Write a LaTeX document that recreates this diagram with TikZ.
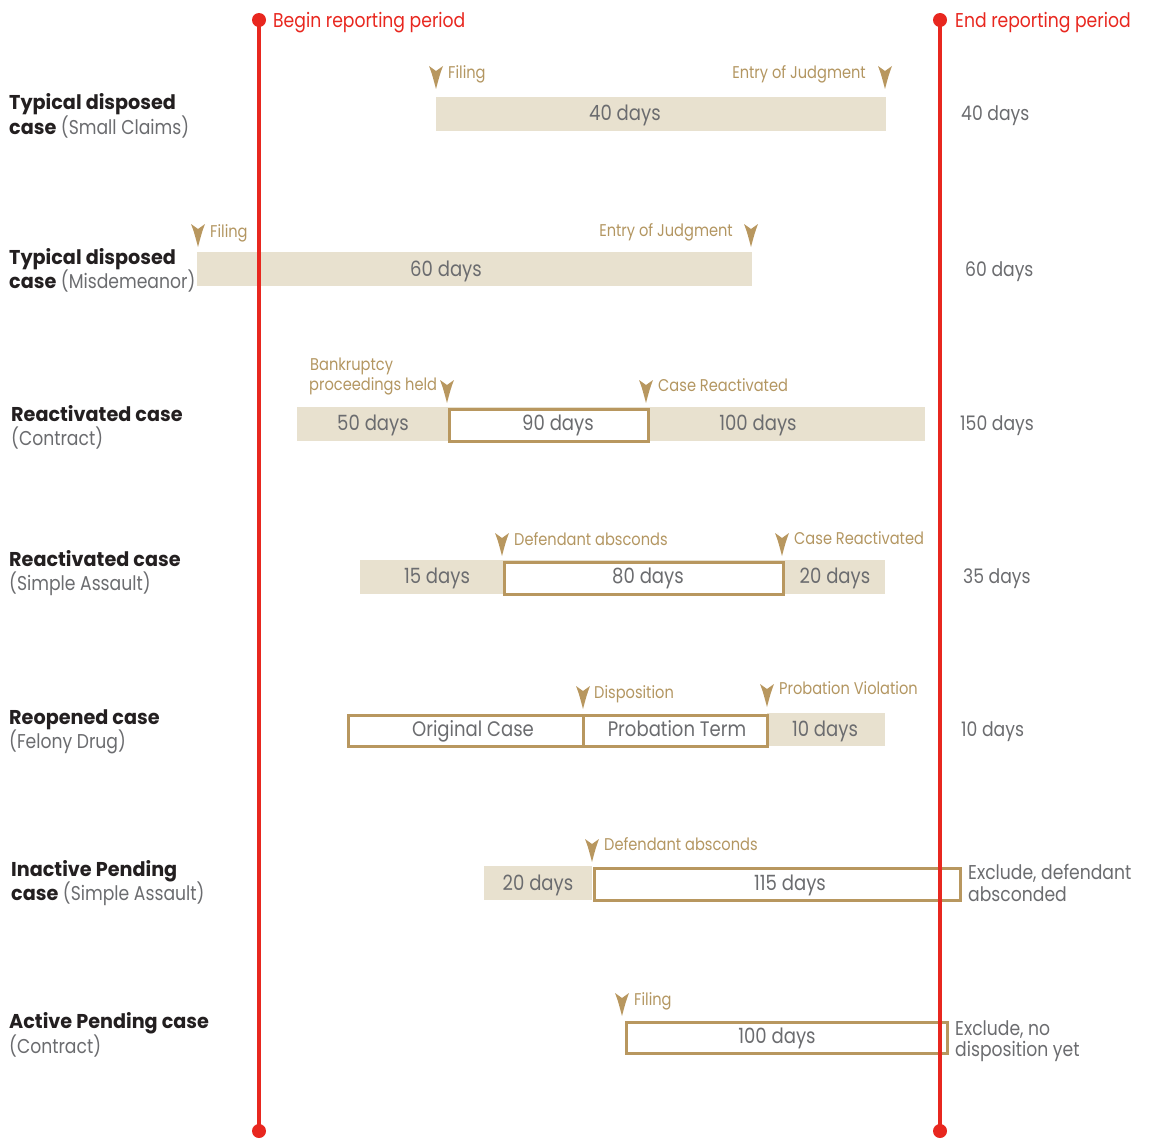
\documentclass[tikz,border=0pt]{standalone}
\usepackage{fontspec}
\setmainfont{Poppins}[FakeStretch=0.86]
\newfontfamily\heavyf{Poppins}[FakeStretch=0.96]
\usetikzlibrary{calc}
\definecolor{redline}{HTML}{E8271F}
\definecolor{beige}{HTML}{E8E1CF}
\definecolor{goldline}{HTML}{B8975F}
\definecolor{goldtxt}{HTML}{B39661}
\definecolor{graytxt}{HTML}{6B6C6F}
\definecolor{darktxt}{HTML}{231F20}
\newcommand{\hd}[1]{{\heavyf\bfseries\color{darktxt}#1}}
\begin{document}
\begin{tikzpicture}[x=1pt,y=-1pt,
  beigebar/.style={fill=beige,draw=none,inner sep=0,minimum height=34,anchor=north west},
  boxbar/.style={fill=white,draw=goldline,line width=2.6,inner sep=0,minimum height=32,anchor=north west},
  valtxt/.style={font=\fontsize{21}{24}\selectfont,text=graytxt,inner sep=0,anchor=base},
  sidetxt/.style={font=\fontsize{20}{24}\selectfont,text=graytxt,inner sep=0,anchor=base west},
  annot/.style={font=\fontsize{17}{20}\selectfont,text=goldtxt,inner sep=0,anchor=base west},
  annotr/.style={annot,anchor=base east},
  rowlbl/.style={font=\fontsize{20}{24}\selectfont,text=graytxt,inner sep=0,anchor=base west},
  redtxt/.style={font=\fontsize{20}{24}\selectfont,text=redline,inner sep=0,anchor=base west},
  reddot/.style={circle,fill=redline,inner sep=0,minimum size=14},
  redrule/.style={draw=redline,line width=3.6},
  mk/.pic={\fill[goldline] (-7,0) -- (0,5) -- (7,0) .. controls (4,8) .. (0,23) .. controls (-4,8) .. (-7,0) -- cycle;}
]
\useasboundingbox (0,0) rectangle (1149,1140);

% ---------- Row 1
\node[beigebar,minimum width=450] (r1a) at (436,97) {};
\node[valtxt] (v1) at (625,120) {40 days};
\pic at (436,66) {mk}; \pic at (885,66) {mk};
\node[annot] (a1a) at (448,78) {Filing};
\node[annotr] (a1b) at (866,79) {Entry of Judgment};
\node[sidetxt] (s1) at (961,120) {40 days};
\node[rowlbl] (l1a) at (9,110) {\hd{Typical disposed}};
\node[rowlbl] (l1b) at (9,134) {\hd{case} (Small Claims)};

% ---------- Row 2
\node[beigebar,minimum width=555] (r2a) at (197,252) {};
\node[valtxt] (v2) at (446,276) {60 days};
\pic at (198,224) {mk}; \pic at (751,224) {mk};
\node[annot] (a2a) at (210,237) {Filing};
\node[annotr] (a2b) at (733,236) {Entry of Judgment};
\node[sidetxt] (s2) at (965,276) {60 days};
\node[rowlbl] (l2a) at (9,264) {\hd{Typical disposed}};
\node[rowlbl] (l2b) at (9,288) {\hd{case} (Misdemeanor)};

% ---------- Row 3
\node[beigebar,minimum width=628] (r3a) at (297,407) {};
\node[boxbar,minimum width=199] (r3b) at (448.3,408.3) {};
\node[valtxt] (v3a) at (373,430) {50 days};
\node[valtxt] (v3b) at (558,430) {90 days};
\node[valtxt] (v3c) at (758,430) {100 days};
\pic at (447,380) {mk}; \pic at (646,380) {mk};
\node[annot] (a3a) at (310,370) {Bankruptcy};
\node[annot] (a3b) at (309,390) {proceedings held};
\node[annot] (a3c) at (658,391) {Case Reactivated};
\node[sidetxt] (s3) at (960,430) {150 days};
\node[rowlbl] (l3a) at (11,421) {\hd{Reactivated case}};
\node[rowlbl] (l3b) at (11,445) {(Contract)};

% ---------- Row 4
\node[beigebar,minimum width=525] (r4a) at (360,560) {};
\node[boxbar,minimum width=279] (r4b) at (503.3,561.3) {};
\node[valtxt] (v4a) at (437,583) {15 days};
\node[valtxt] (v4b) at (648,583) {80 days};
\node[valtxt] (v4c) at (835,583) {20 days};
\pic at (502,533) {mk}; \pic at (782,533) {mk};
\node[annot] (a4a) at (514,545) {Defendant absconds};
\node[annot] (a4b) at (794,544) {Case Reactivated};
\node[sidetxt] (s4) at (963,583) {35 days};
\node[rowlbl] (l4a) at (9,566) {\hd{Reactivated case}};
\node[rowlbl] (l4b) at (9,590) {(Simple Assault)};

% ---------- Row 5
\node[beigebar,minimum width=118,minimum height=33] (r5c) at (767,713) {};
\node[boxbar,minimum width=235,minimum height=31] (r5a) at (347.3,714.3) {};
\node[boxbar,minimum width=184,minimum height=31] (r5b) at (582.3,714.3) {};
\node[valtxt] (v5a) at (473,736) {Original Case};
\node[valtxt] (v5b) at (677,736) {Probation Term};
\node[valtxt] (v5c) at (825,736) {10 days};
\pic at (583,686) {mk}; \pic at (767,684) {mk};
\node[annot] (a5a) at (594,698) {Disposition};
\node[annot] (a5b) at (779,694) {Probation Violation};
\node[sidetxt] (s5) at (961,736) {10 days};
\node[rowlbl] (l5a) at (9,724) {\hd{Reopened case}};
\node[rowlbl] (l5b) at (9,748) {(Felony Drug)};

% ---------- Row 6
\node[beigebar,minimum width=108] (r6a) at (484,866) {};
\node[boxbar,minimum width=366] (r6b) at (593.3,867.3) {};
\node[valtxt] (v6a) at (538,890) {20 days};
\node[valtxt] (v6b) at (790,890) {115 days};
\pic at (592,839) {mk};
\node[annot] (a6a) at (604,850) {Defendant absconds};
\node[sidetxt] (s6a) at (968,879) {Exclude, defendant};
\node[sidetxt] (s6b) at (968,901) {absconded};
\node[rowlbl] (l6a) at (11,876) {\hd{Inactive Pending}};
\node[rowlbl] (l6b) at (11,900) {\hd{case} (Simple Assault)};

% ---------- Row 7
\node[boxbar,minimum width=321,minimum height=31] (r7a) at (625.3,1021.3) {};
\node[valtxt] (v7) at (777,1043) {100 days};
\pic at (622,993) {mk};
\node[annot] (a7a) at (634,1005) {Filing};
\node[sidetxt] (s7a) at (955,1035) {Exclude, no};
\node[sidetxt] (s7b) at (955,1056) {disposition yet};
\node[rowlbl] (l7a) at (9,1028) {\hd{Active Pending case}};
\node[rowlbl] (l7b) at (9,1053) {(Contract)};

% ---------- Reporting period lines
\node[reddot] (bt) at (259,20) {};
\node[reddot] (bb) at (259,1131) {};
\node[reddot] (et) at (940,20) {};
\node[reddot] (eb) at (940,1131) {};
\draw[redrule] (bt.center) -- (bb.center);
\draw[redrule] (et.center) -- (eb.center);
\node[redtxt] (bl) at (273,28) {Begin reporting period};
\node[redtxt] (el) at (955,28) {End reporting period};
\end{tikzpicture}
\end{document}
